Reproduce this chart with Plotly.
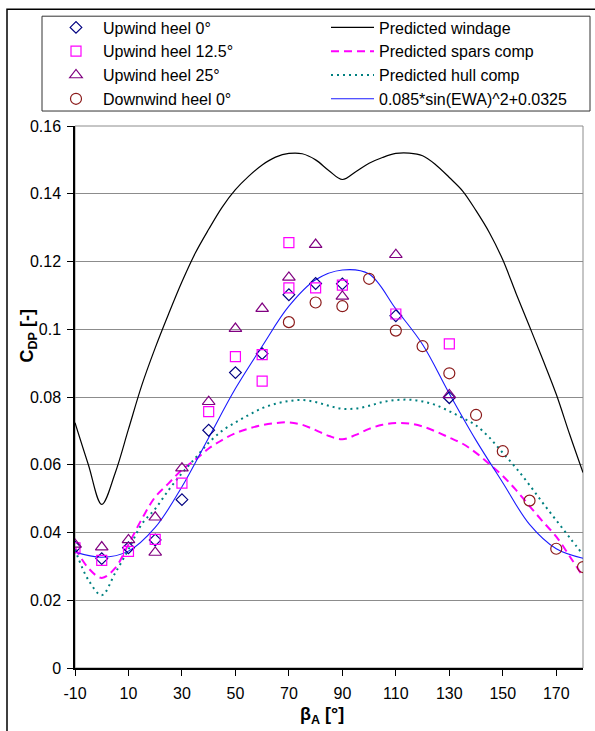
import plotly.graph_objects as go

# ---------------- data ----------------
# Measured points
up0_x = [-10, 0, 10, 20, 30, 40, 50, 60, 70, 80, 90, 110, 130]
up0_y = [0.0357, 0.0323, 0.0355, 0.0378, 0.0497, 0.0702, 0.0872, 0.0928, 0.1102, 0.1135, 0.1134, 0.1040, 0.0798]

up125_x = [-10, 0, 10, 20, 30, 40, 50, 60, 60, 70, 70, 80, 90, 110, 130]
up125_y = [0.0355, 0.0318, 0.0344, 0.0380, 0.0546, 0.0757, 0.0919, 0.0925, 0.0847, 0.1256, 0.1122, 0.1122, 0.1130, 0.1045, 0.0957]

up25_x = [-10, 0, 10, 20, 20, 30, 40, 50, 60, 70, 80, 90, 110, 130]
up25_y = [0.0365, 0.0357, 0.0378, 0.0445, 0.0341, 0.0590, 0.0786, 0.1002, 0.1061, 0.1153, 0.1250, 0.1097, 0.1220, 0.0806]

down0_x = [70, 80, 90, 100, 110, 120, 130, 140, 150, 160, 170, 180]
down0_y = [0.1021, 0.1079, 0.1068, 0.1149, 0.0996, 0.0950, 0.0870, 0.0747, 0.0640, 0.0494, 0.0352, 0.0298]

# Predicted curves (5 degree steps)
curve_x = [-10, -5, 0, 5, 10, 15, 20, 25, 30, 35, 40, 45, 50, 55, 60, 65, 70, 75, 80, 85,
           90, 95, 100, 105, 110, 115, 120, 125, 130, 135, 140, 145, 150, 155, 160, 165, 170, 175, 180]
windage_y = [0.0724, 0.0600, 0.0483, 0.0575, 0.0705, 0.0835, 0.0945, 0.1045, 0.1140, 0.1225, 0.1295, 0.1360,
             0.1412, 0.1452, 0.1485, 0.1508, 0.1519, 0.1518, 0.1500, 0.1468, 0.1442, 0.1465, 0.1490, 0.1507,
             0.1519, 0.1520, 0.1512, 0.1485, 0.1448, 0.1408, 0.1350, 0.1285, 0.1205, 0.1105, 0.1008, 0.0910,
             0.0808, 0.0690, 0.0577]
spars_y = [0.0355, 0.0295, 0.0266, 0.0295, 0.0365, 0.0440, 0.0505, 0.0545, 0.0585, 0.0615, 0.0648, 0.0673,
           0.0693, 0.0707, 0.0717, 0.0723, 0.0725, 0.0718, 0.0702, 0.0685, 0.0675, 0.0688, 0.0706, 0.0718,
           0.0723, 0.0722, 0.0713, 0.0698, 0.0680, 0.0662, 0.0635, 0.0602, 0.0567, 0.0525, 0.0478, 0.0432,
           0.0388, 0.0330, 0.0270]
hull_y = [0.0350, 0.0260, 0.0215, 0.0280, 0.0350, 0.0425, 0.0470, 0.0525, 0.0575, 0.0620, 0.0665, 0.0700,
          0.0725, 0.0747, 0.0767, 0.0780, 0.0788, 0.0791, 0.0785, 0.0774, 0.0765, 0.0766, 0.0774, 0.0785,
          0.0791, 0.0792, 0.0787, 0.0776, 0.0758, 0.0738, 0.0716, 0.0680, 0.0635, 0.0590, 0.0540, 0.0487,
          0.0436, 0.0385, 0.0335]

fit_x = [-10, 0, 10, 20, 30, 40, 50, 60, 70, 80, 90, 100, 110, 120, 130, 140, 150, 160, 170, 180]
fit_y = [0.0342, 0.0327, 0.0345, 0.0415, 0.0535, 0.0680, 0.0825, 0.0950, 0.1068, 0.1146, 0.1175, 0.1163,
         0.1060, 0.0955, 0.0810, 0.0672, 0.0547, 0.0424, 0.0352, 0.0324]

x_ticks = [-10, 10, 30, 50, 70, 90, 110, 130, 150, 170]
x_tick_text = ["-10", "10", "30", "50", "70", "90", "110", "130", "150", "170"]
y_ticks = [0, 0.02, 0.04, 0.06, 0.08, 0.1, 0.12, 0.14, 0.16]
y_tick_text = ["0", "0.02", "0.04", "0.06", "0.08", "0.1", "0.12", "0.14", "0.16"]

FONT = "Arial, 'Liberation Sans', sans-serif"

fig = go.Figure()

# ---------------- lines ----------------
fig.add_trace(go.Scatter(x=curve_x, y=windage_y, mode="lines", name="Predicted windage",
                         line=dict(color="#000000", width=1.2, shape="spline"), legend="legend2"))
fig.add_trace(go.Scatter(x=curve_x, y=spars_y, mode="lines", name="Predicted spars comp",
                         line=dict(color="#ff00ff", width=2, dash="8px,5px", shape="spline"), legend="legend2"))
fig.add_trace(go.Scatter(x=curve_x, y=hull_y, mode="lines", name="Predicted hull comp",
                         line=dict(color="#008080", width=2, dash="2px,4px", shape="spline"), legend="legend2"))
fig.add_trace(go.Scatter(x=fit_x, y=fit_y, mode="lines", name="0.085*sin(EWA)^2+0.0325",
                         line=dict(color="#1a1aff", width=1.1, shape="spline"), legend="legend2"))

# ---------------- markers ----------------
fig.add_trace(go.Scatter(x=up0_x, y=up0_y, mode="markers", name="Upwind heel 0°",
                         marker=dict(symbol="diamond-open", size=9, color="#000080", line=dict(width=1.2)),
                         legend="legend"))
fig.add_trace(go.Scatter(x=up125_x, y=up125_y, mode="markers", name="Upwind heel 12.5°",
                         marker=dict(symbol="square-open", size=10, color="#ff00ff", line=dict(width=1.2)),
                         legend="legend"))
fig.add_trace(go.Scatter(x=up25_x, y=up25_y, mode="markers", name="Upwind heel 25°",
                         marker=dict(symbol="triangle-up-open", size=11, color="#800080", line=dict(width=1.2)),
                         legend="legend"))
fig.add_trace(go.Scatter(x=down0_x, y=down0_y, mode="markers", name="Downwind heel 0°",
                         marker=dict(symbol="circle-open", size=11, color="#8b1a1a", line=dict(width=1.2)),
                         legend="legend"))

# ---------------- layout ----------------
L, R, T, B = 75, 12, 125, 63
W, H = 595, 731
pw, ph = W - L - R, H - T - B


def px2x(p):
    return (p - L) / pw


def py2y(p):
    return (H - B - p) / ph


fig.update_layout(
    width=W, height=H,
    margin=dict(l=L, r=R, t=T, b=B, pad=0),
    paper_bgcolor="white", plot_bgcolor="white",
    font=dict(family=FONT, size=16, color="black"),
    legend=dict(x=px2x(49), y=py2y(10.5), xanchor="left", yanchor="top",
                bgcolor="rgba(0,0,0,0)", borderwidth=0, itemwidth=44,
                font=dict(family=FONT, size=16, color="black"), tracegroupgap=0),
    legend2=dict(x=px2x(326), y=py2y(10.5), xanchor="left", yanchor="top",
                 bgcolor="rgba(0,0,0,0)", borderwidth=0, itemwidth=43,
                 font=dict(family=FONT, size=16, color="black"), tracegroupgap=0),
    xaxis=dict(range=[-10, 180], tickvals=x_ticks, ticktext=x_tick_text, ticks="outside", ticklen=6,
               tickcolor="black", showline=True, linecolor="black", linewidth=1.5, showgrid=False,
               zeroline=False, tickfont=dict(family=FONT, size=16, color="black"), ticklabelstandoff=4),
    yaxis=dict(range=[0, 0.16], tickvals=y_ticks, ticktext=y_tick_text, ticks="outside", ticklen=6,
               tickcolor="black", showline=True, linecolor="black", linewidth=1.5,
               showgrid=True, gridcolor="#8c8c8c", gridwidth=1, zeroline=False,
               tickfont=dict(family=FONT, size=16, color="black"), ticklabelstandoff=3),
    shapes=[
        # plot area border (gray)
        dict(type="rect", xref="paper", yref="paper", x0=0, x1=1, y0=0, y1=1,
             line=dict(color="#8c8c8c", width=1), layer="below"),
        # legend box
        dict(type="rect", xref="paper", yref="paper", x0=px2x(42), x1=px2x(590), y0=py2y(110), y1=py2y(15),
             line=dict(color="#333333", width=1)),
        # outer chart frame
        dict(type="rect", xref="paper", yref="paper", x0=px2x(7), x1=px2x(620), y0=py2y(760), y1=py2y(8),
             line=dict(color="black", width=1.5)),
    ],
    annotations=[
        dict(text="<b>C<sub>DP</sub> [-]</b>", xref="paper", yref="paper", x=px2x(29), y=py2y(336),
             showarrow=False, textangle=-90, font=dict(family=FONT, size=18, color="black"),
             xanchor="center", yanchor="middle"),
        dict(text="<b>β<sub>A</sub> [°]</b>", xref="paper", yref="paper", x=px2x(322), y=py2y(716),
             showarrow=False, font=dict(family=FONT, size=18, color="black"),
             xanchor="center", yanchor="middle"),
    ],
)

fig.write_html("out.html")
